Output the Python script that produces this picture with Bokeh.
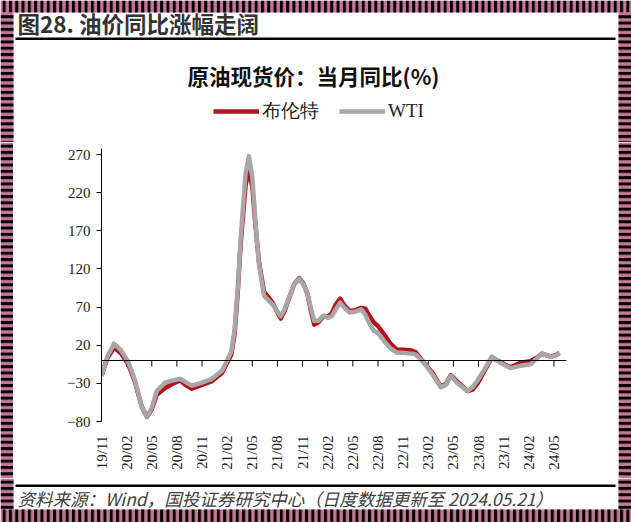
from math import pi
from bokeh.plotting import figure
from bokeh.layouts import column, row
from bokeh.models import (Range1d, FixedTicker, Span, Label, BoxAnnotation,
                          Legend, LegendItem)
from bokeh.embed import file_html
from bokeh.resources import INLINE

# ---------------- data ----------------
dates = [
    "2019-11-01", "2019-11-22", "2019-12-16", "2020-01-10", "2020-02-07", "2020-03-01",
    "2020-03-25", "2020-04-14", "2020-05-01", "2020-05-19", "2020-06-19", "2020-07-19",
    "2020-08-13", "2020-09-01", "2020-09-25", "2020-11-01", "2020-12-07", "2021-01-13",
    "2021-02-01", "2021-02-16", "2021-02-28", "2021-03-10", "2021-03-19", "2021-04-07",
    "2021-04-19", "2021-05-01", "2021-05-13", "2021-05-25", "2021-06-13", "2021-07-01",
    "2021-07-13", "2021-08-01", "2021-08-13", "2021-08-28", "2021-09-13", "2021-10-01",
    "2021-10-19", "2021-11-04", "2021-11-19", "2021-12-01", "2021-12-13", "2021-12-28",
    "2022-01-16", "2022-02-01", "2022-02-16", "2022-03-01", "2022-03-16", "2022-04-01",
    "2022-04-19", "2022-05-10", "2022-06-01", "2022-06-16", "2022-07-01", "2022-07-16",
    "2022-08-01", "2022-08-22", "2022-09-16", "2022-10-10", "2022-11-01", "2022-12-01",
    "2022-12-16", "2023-01-16", "2023-02-16", "2023-03-16", "2023-04-04", "2023-04-22",
    "2023-05-16", "2023-06-22", "2023-07-10", "2023-07-28", "2023-08-22", "2023-09-19",
    "2023-10-19", "2023-11-25", "2024-01-01", "2024-02-07", "2024-03-01", "2024-03-19",
    "2024-04-19", "2024-05-07", "2024-05-21",
]
wti = [
    -20, 5, 22, 14, -2, -26,
    -60, -74, -62, -40, -29, -26,
    -24, -28, -33, -29, -24, -13,
    0, 12, 40, 100, 157, 245,
    268, 240, 179, 127, 85, 78,
    74, 64, 58, 68, 83, 100,
    107, 100, 87, 68, 52, 52,
    59, 56, 58, 68, 76, 69,
    63, 64, 67, 60, 48, 39,
    36, 26, 16, 10, 10, 9,
    8, -3, -18, -35, -32, -20,
    -30, -40, -35, -26, -12, 5,
    -3, -10, -7, -5, 3, 9,
    5, 6, 10,
]
brent = [
    -20, 3, 17, 10, -5, -28,
    -60, -74, -64, -45, -36, -30,
    -26, -32, -37, -32, -27, -16,
    -3, 8, 35, 95, 150, 230,
    249, 228, 175, 130, 90, 82,
    76, 63, 55, 66, 82, 100,
    108, 101, 87, 65, 47, 50,
    58, 57, 62, 74, 81, 72,
    65, 66, 69, 68, 58, 50,
    45, 35, 22, 14, 14, 13,
    11, -3, -16, -34, -31, -19,
    -28, -40, -38, -30, -14, 4,
    -2, -9, -3, -1, 4, 9,
    5, 7, 10,
]
tick_labels = ["19/11", "20/02", "20/05", "20/08", "20/11", "21/02", "21/05",
               "21/08", "21/11", "22/02", "22/05", "22/08", "22/11", "23/02",
               "23/05", "23/08", "23/11", "24/02", "24/05"]
y_ticks = [-80, -30, 20, 70, 120, 170, 220, 270]
series_names = ["布伦特", "WTI"]

header_text = "图28. 油价同比涨幅走阔"
chart_title = "原油现货价：当月同比(%)"
source_text = "资料来源：Wind，国投证券研究中心（日度数据更新至 2024.05.21）"

BRENT_COLOR = "#b3121b"
WTI_COLOR = "#a8a6a7"
PINK = "#c8789a"
serif = "Liberation Serif"
cjk = "Noto Sans CJK SC"
NAN = float("nan")


def month_index(d):
    y, m, dd = (int(v) for v in d.split("-"))
    return (y - 2019) * 12 + (m - 11) + (dd - 1) / 30.5


def label_index(s):
    yy, mm = s.split("/")
    return (2000 + int(yy) - 2019) * 12 + int(mm) - 11


x = [month_index(d) for d in dates]
ticks = [label_index(s) for s in tick_labels]

W, H = 631, 522
SW_L, SW_R = 13, 13          # side strip widths
IW = W - SW_L - SW_R         # inner white width
TOP_S, BOT_S = 12, 13        # top / bottom strip heights
HEAD_H, MAIN_H, SRC_H = 130, 336, 31


def canvas_fig(w, h):
    """A figure whose frame is the whole canvas, in pixel units from top-left."""
    f = figure(width=w, height=h, output_backend="svg", toolbar_location=None,
               x_range=Range1d(0, w), y_range=Range1d(h, 0),
               x_axis_location=None, y_axis_location=None, min_border=0,
               frame_align=False)
    f.title = None
    f.outline_line_color = None
    f.background_fill_color = "white"
    f.border_fill_color = "white"
    f.xgrid.visible = False
    f.ygrid.visible = False
    return f


def add_strip(f, l, r, t, b, pattern):
    f.add_layout(BoxAnnotation(left=l, right=r, top=t, bottom=b,
                               fill_color=PINK, fill_alpha=1, line_color=None,
                               hatch_pattern=pattern, hatch_color="black",
                               hatch_scale=6.3, hatch_weight=3))


def add_rule(f, y):
    f.add_layout(BoxAnnotation(left=15, right=615, top=y, bottom=y + 2.5,
                               fill_color="black", fill_alpha=1, line_color=None))


# ---------------- top part: frame, header, chart title, legend ----------------
top_h = TOP_S + HEAD_H
head = canvas_fig(W, top_h)
add_strip(head, 0, W, 0, TOP_S, "vertical_line")
add_strip(head, 0, SW_L, TOP_S, top_h, "horizontal_line")
add_strip(head, W - SW_R, W, TOP_S, top_h, "horizontal_line")
head.add_layout(Label(x=17, y=22, text=header_text, text_font=cjk,
                      text_font_size="22.5px", text_font_style="bold",
                      text_baseline="middle", text_align="left",
                      text_color="#333333"))
add_rule(head, 37)
head.add_layout(Label(x=313, y=75, text=chart_title, text_font=cjk,
                      text_font_size="21.5px", text_font_style="bold",
                      text_baseline="middle", text_align="center",
                      text_color="#111111"))
lb = head.line(x=[NAN], y=[NAN], line_color=BRENT_COLOR, line_width=4.5)
lw = head.line(x=[NAN], y=[NAN], line_color=WTI_COLOR, line_width=4.5)
legend = Legend(items=[LegendItem(label=series_names[0], renderers=[lb]),
                       LegendItem(label=series_names[1], renderers=[lw])],
                orientation="horizontal", location=(213, top_h - 124),
                glyph_width=46, glyph_height=20, label_standoff=3, spacing=20,
                padding=0, margin=0, border_line_color=None,
                background_fill_alpha=0,
                label_text_font=serif, label_text_font_size="19px",
                label_text_color="#222222")
head.add_layout(legend)

# ---------------- main chart ----------------
FL, FR, FT, FB = 88, 52, 6, 57
p = figure(width=IW, height=MAIN_H, output_backend="svg", toolbar_location=None,
           x_range=Range1d(0, 55.5), y_range=Range1d(-80, 278),
           min_border_left=FL, min_border_right=FR,
           min_border_top=FT, min_border_bottom=FB, frame_align=False)
p.title = None
p.outline_line_color = None
p.background_fill_color = "white"
p.border_fill_color = "white"
p.xgrid.visible = False
p.ygrid.visible = False

p.yaxis.ticker = FixedTicker(ticks=y_ticks)
p.yaxis.axis_line_color = "black"
p.yaxis.axis_line_width = 1
p.yaxis.major_tick_out = 5
p.yaxis.major_tick_in = 0
p.yaxis.minor_tick_line_color = None
p.yaxis.major_tick_line_color = "black"
p.yaxis.major_label_text_font = serif
p.yaxis.major_label_text_font_size = "15px"
p.yaxis.major_label_text_color = "#222222"
p.yaxis.major_label_standoff = 6

p.xaxis.ticker = FixedTicker(ticks=ticks)
p.xaxis.major_label_overrides = {t: s for t, s in zip(ticks, tick_labels)}
p.xaxis.major_label_orientation = pi / 2
p.xaxis.axis_line_color = None
p.xaxis.major_tick_line_color = None
p.xaxis.minor_tick_line_color = None
p.xaxis.major_label_text_font = serif
p.xaxis.major_label_text_font_size = "15px"
p.xaxis.major_label_text_color = "#222222"
p.xaxis.major_label_standoff = 8

p.add_layout(Span(location=0, dimension="width", line_color="black", line_width=1))
px_per_unit = (MAIN_H - FT - FB) / (278 - (-80))
tick_len = 6 / px_per_unit
p.segment(x0=ticks, y0=[0] * len(ticks), x1=ticks, y1=[-tick_len] * len(ticks),
          line_color="black", line_width=1)

p.line(x, brent, line_color=BRENT_COLOR, line_width=4.5, line_join="round")
p.line(x, wti, line_color=WTI_COLOR, line_width=4.5, line_join="round")

left_side = canvas_fig(SW_L, MAIN_H)
add_strip(left_side, 0, SW_L, 0, MAIN_H, "horizontal_line")
right_side = canvas_fig(SW_R, MAIN_H)
add_strip(right_side, 0, SW_R, 0, MAIN_H, "horizontal_line")

# ---------------- bottom part: source and frame ----------------
bot_h = SRC_H + BOT_S
src = canvas_fig(W, bot_h)
add_strip(src, 0, SW_L, 0, SRC_H, "horizontal_line")
add_strip(src, W - SW_R, W, 0, SRC_H, "horizontal_line")
add_strip(src, 0, W, SRC_H, bot_h, "vertical_line")
add_rule(src, 6)
src.add_layout(Label(x=17, y=20, text=source_text, text_font=cjk,
                     text_font_size="17.5px", text_font_style="italic",
                     text_baseline="middle", text_align="left",
                     text_color="#404040"))

layout = column(head, row(left_side, p, right_side, spacing=0), src, spacing=0)

open("out.html", "w").write(file_html(layout, INLINE))
